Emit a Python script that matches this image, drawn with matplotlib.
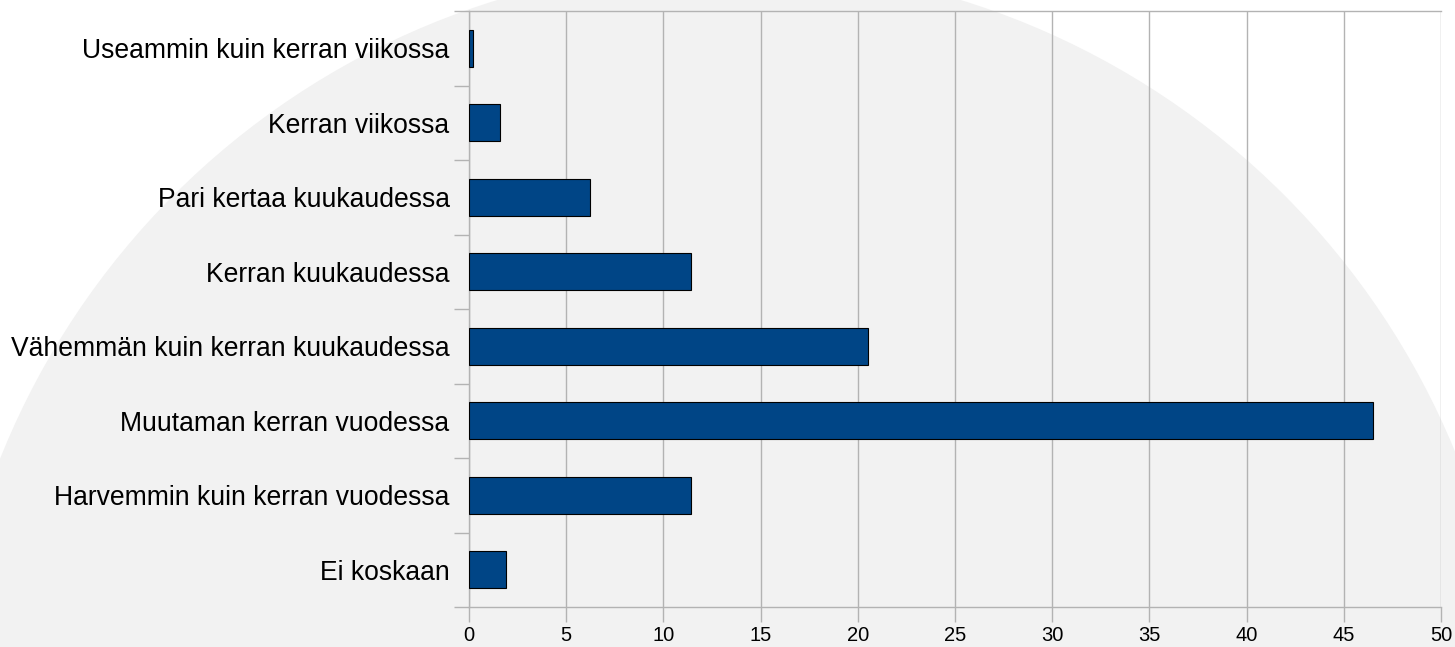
import matplotlib
matplotlib.use("Agg")
import matplotlib.pyplot as plt
from matplotlib.patches import Circle
import numpy as np

categories = [
    "Useammin kuin kerran viikossa",
    "Kerran viikossa",
    "Pari kertaa kuukaudessa",
    "Kerran kuukaudessa",
    "Vähemmän kuin kerran kuukaudessa",
    "Muutaman kerran vuodessa",
    "Harvemmin kuin kerran vuodessa",
    "Ei koskaan",
]
values = [0.2, 1.6, 6.2, 11.4, 20.5, 46.5, 11.4, 1.9]
xticks = [0, 5, 10, 15, 20, 25, 30, 35, 40, 45, 50]

plt.rcParams['font.family'] = ['Liberation Sans', 'DejaVu Sans']

W, H = 1455, 647
fig = plt.figure(figsize=(W / 100, H / 100), dpi=100)
fig.patch.set_facecolor('white')

# background watermark circle (figure pixel coordinates)
bg = fig.add_axes([0, 0, 1, 1], zorder=0)
bg.set_xlim(0, W)
bg.set_ylim(H, 0)
bg.axis('off')
bg.add_patch(Circle((729, 750), 785, facecolor='#f2f2f2', edgecolor='none'))

ax = fig.add_axes([469 / W, 1 - 607 / H, (1441 - 469) / W, (607 - 11) / H], zorder=1)
ax.patch.set_alpha(0)

y = np.arange(len(categories))
ax.barh(y, values, height=0.5, color='#004586', edgecolor='black', linewidth=0.8, zorder=3)

ax.set_xlim(0, 50)
ax.set_ylim(len(categories) - 0.5, -0.5)
ax.set_xticks(xticks)
ax.set_xticklabels([str(t) for t in xticks], fontsize=14.5)
ax.set_yticks(y)
ax.set_yticklabels(categories, fontsize=19.1)
ax.set_yticks(np.arange(-0.5, len(categories)), minor=True)

ax.tick_params(axis='y', which='major', length=0, pad=14)
ax.tick_params(axis='y', which='minor', length=11, color='#b3b3b3', width=1)
ax.tick_params(axis='x', which='major', length=11, color='#b3b3b3', width=1, pad=3)

ax.grid(axis='x', color='#b3b3b3', linewidth=1, zorder=0)
ax.set_axisbelow(True)
for side in ['left', 'bottom', 'top']:
    ax.spines[side].set_color('#b3b3b3')
    ax.spines[side].set_linewidth(1)
ax.spines['right'].set_visible(False)

fig.savefig('out.png', dpi=100, facecolor='white')
